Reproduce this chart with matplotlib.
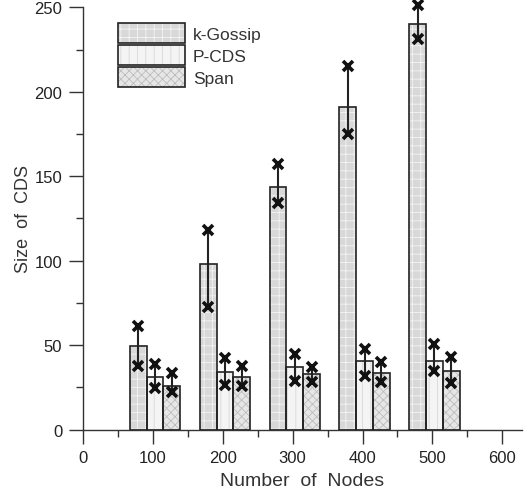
import matplotlib
matplotlib.use('Agg')
import matplotlib.pyplot as plt
import numpy as np
from matplotlib.ticker import MultipleLocator
from matplotlib.patches import Patch

plt.rcParams['font.family'] = ['Liberation Sans', 'DejaVu Sans']
plt.rcParams['hatch.linewidth'] = 0.6

# --- data ---
nodes = np.array([100, 200, 300, 400, 500])
kgossip = [49.6, 98.3, 143.9, 191.2, 240.0]
kgossip_lo = [37.8, 72.7, 134.4, 174.9, 231.0]
kgossip_hi = [61.1, 118.2, 157.5, 215.0, 251.5]
pcds = [30.9, 33.8, 37.2, 40.3, 40.7]
pcds_lo = [24.4, 26.5, 28.9, 31.8, 34.5]
pcds_hi = [38.6, 42.3, 44.7, 47.6, 50.6]
span = [25.9, 30.9, 32.8, 33.4, 34.8]
span_lo = [22.0, 25.9, 28.3, 28.3, 27.3]
span_hi = [33.2, 37.4, 37.2, 39.8, 42.7]

series = [
    ('k-Gossip', kgossip, kgossip_lo, kgossip_hi, -21, '#d8d8d8', '++', '#f4f4f4'),
    ('P-CDS', pcds, pcds_lo, pcds_hi, 3, '#f4f4f4', '||', '#d8d8d8'),
    ('Span', span, span_lo, span_hi, 27, '#e6e6e6', 'xxxx', '#bdbdbd'),
]
width = 24

fig = plt.figure(figsize=(5.26, 5.02), dpi=100)
ax = fig.add_axes([0.158, 0.1424, 0.834, 0.841])

for label, vals, lo, hi, off, fc, hatch, hc in series:
    x = nodes + off
    # hatched fill
    ax.bar(x, vals, width, color=fc, edgecolor=hc, hatch=hatch, linewidth=0, zorder=2)
    # outline
    ax.bar(x, vals, width, facecolor='none', edgecolor='#222222', linewidth=1.2, zorder=3)
    ax.vlines(x, lo, hi, color='#222222', linewidth=1.5, zorder=4, clip_on=False)
    ax.plot(x, lo, 'x', color='#111111', ms=6.5, mew=2.6, zorder=5, clip_on=False)
    ax.plot(x, hi, 'x', color='#111111', ms=6.5, mew=2.6, zorder=5, clip_on=False)

# legend: hatch drawn in its own colour, outline on top
fill_handles = [Patch(facecolor=fc, edgecolor=hc, hatch=hatch, linewidth=0)
                for _, _, _, _, _, fc, hatch, hc in series]
outline = [Patch(facecolor='none', edgecolor='#222222', linewidth=1.2) for _ in series]
handles = list(zip(fill_handles, outline))
leg = ax.legend(handles, [s[0] for s in series], loc='upper left',
                bbox_to_anchor=(0.08, 0.962), frameon=False, fontsize=12.5,
                handlelength=3.85, handleheight=1.4, labelspacing=0.1,
                handletextpad=0.45, borderaxespad=0, borderpad=0,
                labelcolor='#333333')

ax.set_xlim(0, 628)
ax.set_ylim(0, 250)
ax.set_xticks([0, 100, 200, 300, 400, 500, 600])
ax.xaxis.set_minor_locator(MultipleLocator(50))
ax.yaxis.set_major_locator(MultipleLocator(50))
ax.yaxis.set_minor_locator(MultipleLocator(25))

for s in ['top', 'right']:
    ax.spines[s].set_visible(False)
for s in ['left', 'bottom']:
    ax.spines[s].set_color('#333333')
    ax.spines[s].set_linewidth(1.0)

ax.tick_params(which='major', direction='out', length=10, width=1.0,
               color='#333333', labelsize=12, labelcolor='#222222', pad=5)
ax.tick_params(which='minor', direction='out', length=5, width=1.0, color='#333333')

ax.set_xlabel('Number  of  Nodes', fontsize=14, color='#333333', labelpad=5)
ax.set_ylabel('Size  of  CDS', fontsize=13, color='#333333', labelpad=2)

fig.savefig('out.png', dpi=100, facecolor='white')
